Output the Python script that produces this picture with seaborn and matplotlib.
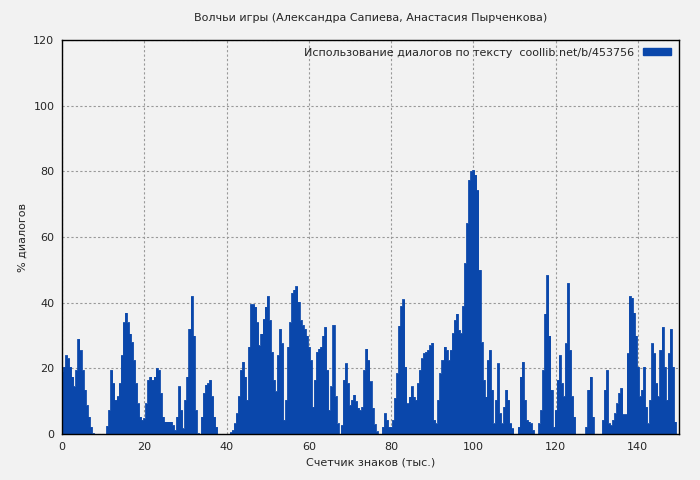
import numpy as np
import pandas as pd
import matplotlib
matplotlib.use("Agg")
import matplotlib.pyplot as plt
import seaborn as sns
from matplotlib.patches import Patch

title = "Волчьи игры (Александра Сапиева, Анастасия Пырченкова)"
xlabel = "Счетчик знаков (тыс.)"
ylabel = "% диалогов"
legend_label = "Использование диалогов по тексту  coollib.net/b/453756"
step = 0.5
values = [
 19,20.5,24,23,20.5,17.5,14.5,19.5,29,25.5,19.5,13.5,8.8,5.3,2.2,0.2,
 0,0,0,0,0,0,
 2.5,7.3,19.5,15.5,10.4,11.5,15.5,24,34,37,34,30.6,28,22.5,15.5,9.3,5.3,4.3,
 4.8,9.3,16.5,17.5,16.5,17.5,20,19.5,12.5,5.3,3.8,3.8,3.8,3.8,2.7,1.2,5.3,14.5,7.3,1.7,
 10.4,17.5,32,42,30,7.3,0.2,0,5.3,12.5,15,15.5,16.5,11.5,5.3,2.2,0,0,0,0,
 0,0,0.5,1.2,3.2,6.3,11.5,19.5,22,17.5,10.4,26.6,39.5,39.5,38.8,34,27,30.6,35,38.8,
 42,34.7,25,16.5,13,24,32,27.6,4.3,10.4,26.6,34,43,44,45,40.3,34.7,33.2,32,30,
 26.6,22.5,8.3,16.5,25,26,26.6,30,32.6,19.5,7.3,14.5,33.2,11.5,3.2,0,2.7,16.5,21.5,15.5,
 8.8,10.4,12,10,8,7.3,8.3,19.5,26,22.5,16,8,3,0.8,0,0,2.2,6.3,4.3,2.2,
 2.2,4.3,11,18.5,33,39,41,20.5,9.3,11.4,14.5,11.4,10.4,15.5,19.5,23,24.6,25,25.6,27,
 27.8,4.3,3.2,10.4,18.5,22.5,26.6,25.6,22.5,25.6,30.7,34.7,36.7,31.7,30.7,39,52,64.2,77.4,80,
 80.4,79,74.3,50,28,16.5,11.4,22.5,25.6,13.5,3.2,10.4,21.5,6.3,3.2,8.3,13.5,10.4,3.2,1.7,
 0,0,2.2,17.5,22,10.4,4.3,3.8,3.2,1.2,0,0,3.2,7.3,19.5,36.7,48.4,30,13.5,2.2,
 7.3,16.5,24,15.5,11.5,27.6,46,25.6,11.5,5.3,0,0,0,0,0,2.2,13.5,17.5,5.3,0,
 0,0,0,4.3,13.5,19.5,3.2,2.7,4.3,6.3,9.3,12.5,14,6,6,24.6,42,41.5,37,30,
 20.5,11.5,13.5,20.5,8.3,3.2,10.4,27.6,24.6,15.5,11.5,25.6,32.6,20.5,10.4,24.6,32,20.5,3.8,0,
]
xs = np.arange(len(values)) * step
df = pd.DataFrame({"x": xs, "y": values})

color = "#0a47ab"
bg = "#f2f2f2"
sns.set_style("white")
plt.rcParams['font.family'] = ['DejaVu Sans']
fig = plt.figure(figsize=(7, 4.8), dpi=100, facecolor=bg)
ax = fig.add_axes([62/700, 1-434/480, (679-62)/700, (434-40)/480])
ax.set_facecolor(bg)
ax.fill_between(df["x"], df["y"], 0, step="mid", color=color, lw=0)
sns.lineplot(data=df, x="x", y="y", ax=ax, drawstyle="steps-mid", color=color, lw=0.6)
ax.set_xlim(0, 150)
ax.set_ylim(0, 120)
ax.set_xticks(range(0, 141, 20))
ax.set_yticks(range(0, 121, 20))
ax.grid(True, color="#999999", linestyle=(0, (2, 2)), lw=0.8)
ax.set_axisbelow(True)
for s in ax.spines.values():
    s.set_color("black"); s.set_linewidth(1)
ax.tick_params(labelsize=8, length=4, direction="inout", width=1)
ax.set_xlabel(xlabel, fontsize=8)
ax.set_ylabel(ylabel, fontsize=8)
ax.set_title(title, fontsize=8, pad=14)
ax.legend(handles=[Patch(color=color, label=legend_label)], loc="upper right",
          frameon=False, fontsize=8, handlelength=2.5, handleheight=0.6,
          markerfirst=False, borderaxespad=0.3)
fig.savefig("out.png", dpi=100, facecolor=bg)
